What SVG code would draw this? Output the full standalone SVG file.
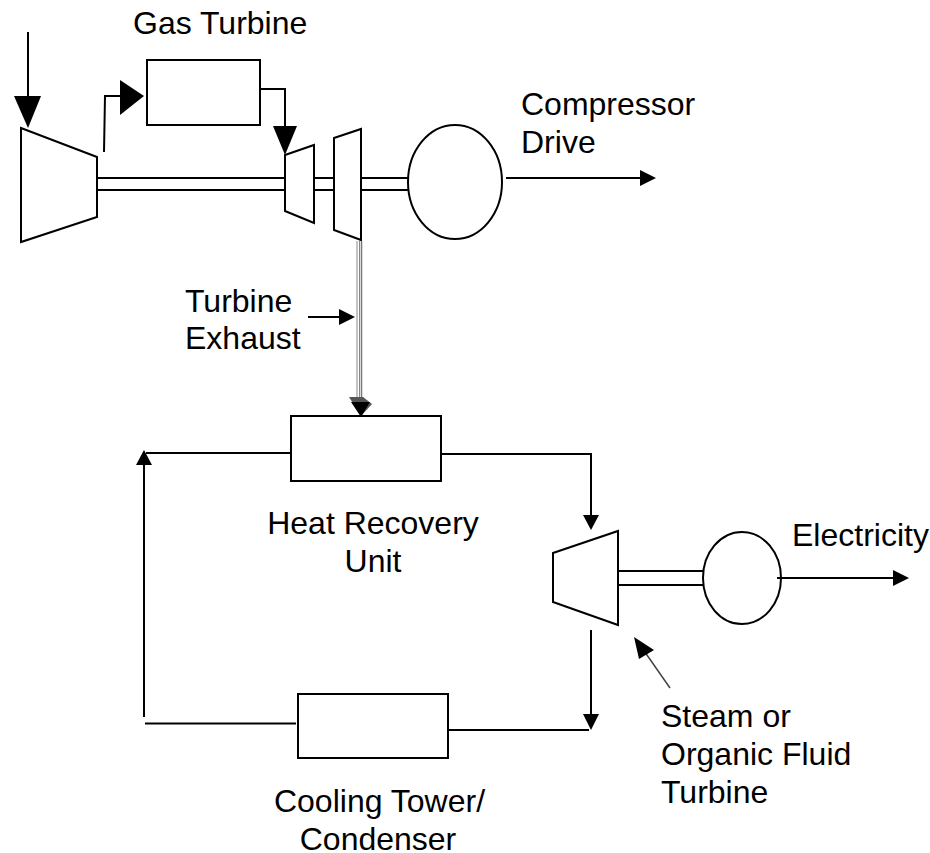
<svg xmlns="http://www.w3.org/2000/svg" width="930" height="853" viewBox="0 0 930 853">
<style>
.s{fill:#fff;stroke:#000;stroke-width:2}
.l{fill:none;stroke:#000;stroke-width:2}
.h{fill:#000;stroke:none}
text{font-family:"Liberation Sans",Arial,sans-serif;font-size:32px;fill:#000}
</style>
<rect width="930" height="853" fill="#fff"/>
<g id="compressor"><path class="s" d="M21 128L97 157V217L21 242Z"/></g>
<g id="gas-turbine"><rect class="s" x="147" y="60" width="113" height="65"/><text x="133" y="34">Gas Turbine</text></g>
<g id="hp-turbine"><path class="s" d="M285 155L314 145V223L285 211Z"/></g>
<g id="power-turbine"><path class="s" d="M334 138L361 129V240L334 230Z"/></g>
<g id="compressor-drive"><ellipse class="s" cx="455" cy="182" rx="47" ry="57"/><text x="521" y="115">Compressor</text><text x="521" y="153">Drive</text></g>
<g id="exhaust-label"><text x="185" y="312">Turbine</text><text x="185" y="349">Exhaust</text></g>
<g id="heat-recovery"><rect class="s" x="291" y="416" width="150" height="65"/><text x="373" y="534" text-anchor="middle">Heat Recovery</text><text x="373" y="572" text-anchor="middle">Unit</text></g>
<g id="cooling-tower"><rect class="s" x="298" y="694" width="150" height="64"/><text x="379.500" y="812" text-anchor="middle">Cooling Tower/</text><text x="378" y="850" text-anchor="middle">Condenser</text></g>
<g id="steam-turbine"><path class="s" d="M553 553L618 531V625L553 602Z"/><text x="661" y="727">Steam or</text><text x="661" y="765">Organic Fluid</text><text x="661" y="803">Turbine</text></g>
<g id="generator"><ellipse class="s" cx="742" cy="578" rx="39" ry="46"/><text x="792" y="546">Electricity</text></g>
<g id="connectors">
<path class="l" d="M28 32V100"/><path class="h" d="M14 96H41L28 128Z"/>
<path class="l" d="M104 152L105 96H122"/><path class="h" d="M120 80L144 96L120 115Z"/>
<path class="l" d="M260 89H285V128"/><path class="h" d="M273 126H297L285 155Z"/>
<path class="l" d="M98 178H285M98 190H285M315 178H334M315 190H334M362 178H408M362 190H408"/>
<path class="l" d="M506 178H642"/><path class="h" d="M640 170L656 178L640 186Z"/>
<path d="M357 241V400" fill="none" stroke="#c4c4c4" stroke-width="2"/>
<path d="M359.500 241V400" fill="none" stroke="#888" stroke-width="1"/>
<path d="M361.500 241V400" fill="none" stroke="#777" stroke-width="1.500"/>
<path d="M349 397H363L372 404L361 416Z" fill="#555"/>
<path class="h" d="M351 402H370L361 417Z"/>
<path class="l" d="M308 317H341"/><path class="h" d="M339 309L355 317L339 325Z"/>
<path class="l" d="M291 453H146"/><path class="h" d="M136 465L144 450L152 465Z"/>
<path class="l" d="M144 462V717"/>
<path class="l" d="M145 723.500H296"/>
<path class="l" d="M441 454H591V518"/><path class="h" d="M583 515H599L591 530Z"/>
<path class="l" d="M591 630V716"/><path class="h" d="M583 714H599L591 730Z"/>
<path class="l" d="M449 730H589"/>
<path class="l" d="M619 571H703M619 585H703"/>
<path class="l" d="M777 578H895"/><path class="h" d="M893 570L909 578L893 586Z"/>
<path d="M670 688L640 645" fill="none" stroke="#444" stroke-width="1.500"/>
<path class="h" d="M634 637L654 650L639 659Z"/>
</g>
</svg>
